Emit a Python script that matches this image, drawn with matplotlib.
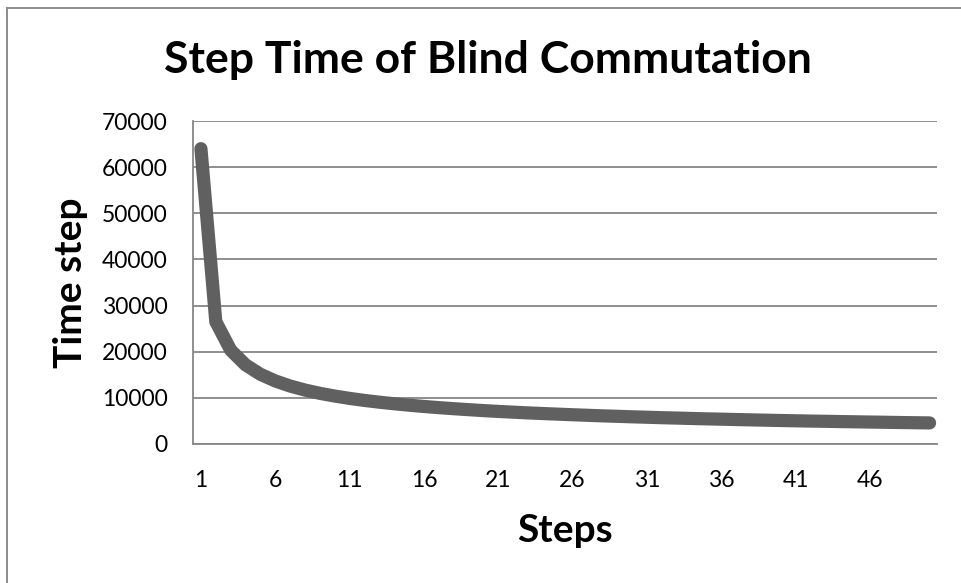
import matplotlib
matplotlib.use("Agg")
import matplotlib.pyplot as plt
from matplotlib.lines import Line2D
from matplotlib.ticker import FixedLocator

W, H = 962, 583

# data (step index vs. step time)
steps = list(range(1, 51))
step_time = [64000, 26510, 20340, 17150, 15110, 13660, 12560, 11690, 10980, 10390,
             9880, 9440, 9060, 8720, 8410, 8130, 7880, 7650, 7440, 7240,
             7060, 6900, 6740, 6600, 6470, 6340, 6220, 6100, 6000, 5890,
             5800, 5700, 5620, 5530, 5450, 5380, 5300, 5230, 5160, 5090,
             5030, 4970, 4920, 4860, 4810, 4760, 4710, 4660, 4610, 4570]
x_ticks = [1, 6, 11, 16, 21, 26, 31, 36, 41, 46]
y_ticks = [0, 10000, 20000, 30000, 40000, 50000, 60000, 70000]

plt.rcParams["font.family"] = ["Lato", "DejaVu Sans"]

fig = plt.figure(figsize=(W / 100, H / 100), dpi=100)

# outer chart border (top and left only visible in the crop)
grey = "#8c8c8c"
fig.add_artist(Line2D([7 / W, 1.0], [1 - 8 / H, 1 - 8 / H], color=grey, lw=1.4,
                      transform=fig.transFigure))
fig.add_artist(Line2D([7 / W, 7 / W], [0, 1 - 8 / H], color=grey, lw=1.4,
                      transform=fig.transFigure))

left, right, top, bottom = 193.5, 937, 121, 444
ax = fig.add_axes([left / W, 1 - bottom / H, (right - left) / W, (bottom - top) / H])

ax.plot(steps, step_time, color="#606060", lw=9.5, solid_capstyle="round",
        solid_joinstyle="round", zorder=3)

ax.set_xlim(0.5, 50.5)
ax.set_ylim(0, 70000)
ax.xaxis.set_major_locator(FixedLocator(x_ticks))
ax.yaxis.set_major_locator(FixedLocator(y_ticks))
ax.set_xticklabels([str(t) for t in x_ticks])
ax.set_yticklabels([str(t) for t in y_ticks])
ax.tick_params(axis="both", length=0, labelsize=16.5, colors="black")
ax.tick_params(axis="x", pad=18.5)
ax.tick_params(axis="y", pad=18.5)

ax.grid(axis="y", color="#868686", lw=1.3)
ax.set_axisbelow(True)
for s in ["top", "right"]:
    ax.spines[s].set_visible(False)
for s in ["left", "bottom"]:
    ax.spines[s].set_color("#868686")
    ax.spines[s].set_linewidth(1.3)

fig.text(488 / W, 1 - 60 / H, "Step Time of Blind Commutation", ha="center",
         va="center", fontsize=32, fontweight="bold")
fig.text(565 / W, 1 - 530 / H, "Steps", ha="center", va="center",
         fontsize=28, fontweight="bold")
fig.text(70 / W, 1 - 283 / H, "Time step", ha="center", va="center",
         fontsize=28, fontweight="bold", rotation=90)

fig.savefig("out.png", dpi=100)
